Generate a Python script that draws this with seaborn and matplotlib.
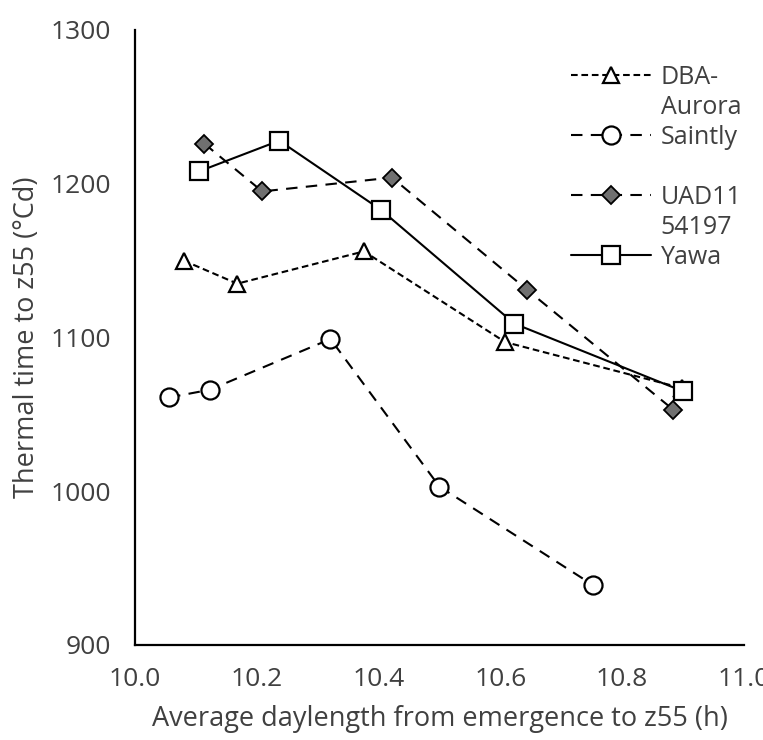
import numpy as np
import pandas as pd
import seaborn as sns
import matplotlib.pyplot as plt
from matplotlib.lines import Line2D

# values
aurora_x = [10.080, 10.168, 10.376, 10.608, 10.899]
aurora_y = [1150, 1135, 1156, 1097, 1067]

saintly_x = [10.056, 10.123, 10.321, 10.500, 10.752]
saintly_y = [1061, 1066, 1099, 1003, 939]

uad_x = [10.114, 10.209, 10.422, 10.644, 10.884]
uad_y = [1226, 1195, 1204, 1131, 1053]

yawa_x = [10.105, 10.237, 10.404, 10.623, 10.900]
yawa_y = [1208, 1228, 1183, 1109, 1065]

x_ticks = [10.0, 10.2, 10.4, 10.6, 10.8, 11.0]
y_ticks = [900, 1000, 1100, 1200, 1300]

sns.set_style("white")
plt.rcParams['font.family'] = ['Open Sans', 'DejaVu Sans']

fig = plt.figure(figsize=(7.63, 7.40), dpi=100)
ax = fig.add_axes([0.1769, 0.1284, 0.7981, 0.8311])

grey_txt = "#404040"
lw = 1.5

sns.lineplot(x=aurora_x, y=aurora_y, ax=ax, color="black", lw=lw,
             linestyle=(0, (3.2, 1.8)), marker="^", markersize=11,
             markerfacecolor="white", markeredgecolor="black", markeredgewidth=1.6)
sns.lineplot(x=saintly_x, y=saintly_y, ax=ax, color="black", lw=lw,
             linestyle=(0, (5.5, 4)), marker="o", markersize=13,
             markerfacecolor="white", markeredgecolor="black", markeredgewidth=1.6)
sns.lineplot(x=uad_x, y=uad_y, ax=ax, color="black", lw=lw,
             linestyle=(0, (5.5, 4)), marker="D", markersize=9.5,
             markerfacecolor="#707070", markeredgecolor="black", markeredgewidth=1.3)
sns.lineplot(x=yawa_x, y=yawa_y, ax=ax, color="black", lw=lw,
             linestyle="-", marker="s", markersize=13,
             markerfacecolor="white", markeredgecolor="black", markeredgewidth=1.6)

ax.set_xlim(10.0, 11.0)
ax.set_ylim(900, 1300)
ax.set_xticks(x_ticks)
ax.set_yticks(y_ticks)
ax.set_xticklabels([f"{v:.1f}" for v in x_ticks])
ax.tick_params(axis="both", length=0, labelsize=19, labelcolor=grey_txt)
ax.tick_params(axis="y", pad=17)
ax.tick_params(axis="x", pad=16)

for side in ["top", "right"]:
    ax.spines[side].set_visible(False)
for side in ["left", "bottom"]:
    ax.spines[side].set_color("black")
    ax.spines[side].set_linewidth(1.6)

ax.set_xlabel("Average daylength from emergence to z55 (h)", fontsize=19.5, color=grey_txt, labelpad=9)
ax.set_ylabel("Thermal time to z55 (°Cd)", fontsize=19.5, color=grey_txt, labelpad=7)

# legend, wrapped the way the original does it
blank = Line2D([], [], color="none")
h_aurora = Line2D([], [], color="black", lw=lw, linestyle=(0, (3.2, 1.8)), marker="^",
                  markersize=11, markerfacecolor="white", markeredgewidth=1.6)
h_saintly = Line2D([], [], color="black", lw=lw, linestyle=(0, (5.5, 4)), marker="o",
                   markersize=13, markerfacecolor="white", markeredgewidth=1.6)
h_uad = Line2D([], [], color="black", lw=lw, linestyle=(0, (5.5, 4)), marker="D",
               markersize=9.5, markerfacecolor="#707070", markeredgewidth=1.3)
h_yawa = Line2D([], [], color="black", lw=lw, linestyle="-", marker="s",
                markersize=13, markerfacecolor="white", markeredgewidth=1.6)
handles = [h_aurora, blank, h_saintly, blank, h_uad, blank, h_yawa]
labels = ["DBA-", "Aurora", "Saintly", "", "UAD11", "54197", "Yawa"]
leg = ax.legend(handles, labels, loc="upper left", bbox_to_anchor=(0.695, 0.963),
                frameon=False, fontsize=18, handlelength=3.2, handletextpad=0.4,
                labelspacing=0.2, borderpad=0)
for t in leg.get_texts():
    t.set_color(grey_txt)

fig.savefig("out.png", dpi=100)
